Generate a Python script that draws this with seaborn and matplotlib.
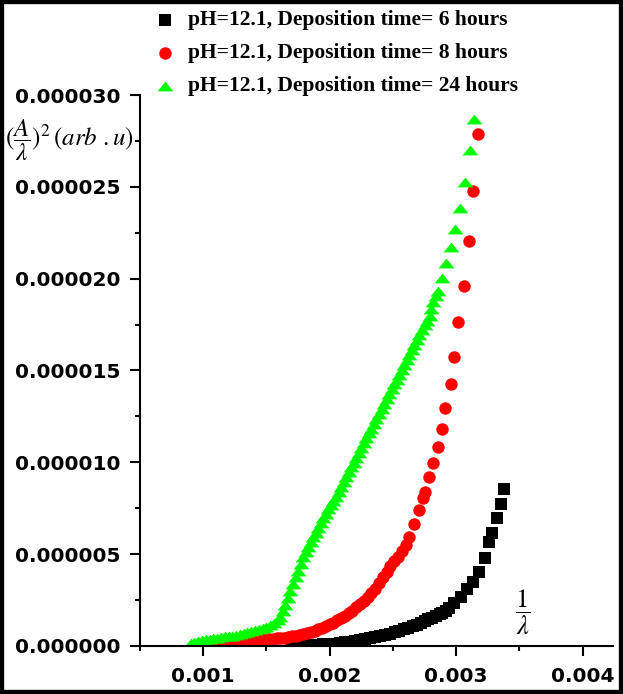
import numpy as np
import pandas as pd
import matplotlib
matplotlib.use('Agg')
import matplotlib.pyplot as plt
import seaborn as sns
from matplotlib.patches import Rectangle
from matplotlib.ticker import MultipleLocator, FormatStrFormatter

# values
# 1/lambda in units of 1e-3, (A/lambda)^2 in units of 1e-6
x_6h = [1.70, 1.75, 1.80, 1.85, 1.90, 1.95, 2.00, 2.04, 2.08, 2.12, 2.16, 2.20,
        2.24, 2.28, 2.32, 2.36, 2.40, 2.44, 2.48, 2.52, 2.55, 2.59, 2.62, 2.66,
        2.69, 2.72, 2.75, 2.78, 2.81, 2.84, 2.87, 2.89, 2.92, 2.945, 2.984,
        3.039, 3.087, 3.134, 3.181, 3.228, 3.260, 3.283, 3.323, 3.354, 3.378]
y_6h = [0.03, 0.04, 0.05, 0.06, 0.08, 0.09, 0.10, 0.12, 0.15, 0.19, 0.22, 0.27,
        0.32, 0.37, 0.42, 0.47, 0.52, 0.58, 0.66, 0.75, 0.82, 0.91, 0.99, 1.08,
        1.16, 1.25, 1.35, 1.45, 1.53, 1.65, 1.75, 1.80, 1.93, 2.07, 2.34,
        2.67, 3.10, 3.49, 4.03, 4.79, 5.66, 6.16, 6.97, 7.73, 8.55]

x_8h = [1.10, 1.13, 1.16, 1.19, 1.22, 1.25, 1.28, 1.31, 1.34, 1.37, 1.40, 1.43,
        1.46, 1.49, 1.52, 1.55, 1.58, 1.61, 1.64, 1.67, 1.70, 1.73, 1.76, 1.79,
        1.82, 1.85, 1.88, 1.91, 1.94, 1.97, 2.00, 2.03, 2.06, 2.09, 2.12, 2.15,
        2.18, 2.21, 2.24, 2.27, 2.30, 2.33, 2.36, 2.39, 2.42, 2.45, 2.48, 2.51,
        2.54, 2.57, 2.60, 2.63, 2.67, 2.71, 2.74, 2.756, 2.787, 2.819, 2.858,
        2.890, 2.913, 2.961, 2.984, 3.016, 3.063, 3.102, 3.134, 3.173]
y_8h = [0.16, 0.17, 0.18, 0.19, 0.21, 0.22, 0.24, 0.25, 0.27, 0.28, 0.30, 0.32,
        0.34, 0.36, 0.38, 0.40, 0.42, 0.44, 0.46, 0.49, 0.52, 0.56, 0.60, 0.65,
        0.70, 0.76, 0.83, 0.90, 0.98, 1.07, 1.17, 1.27, 1.39, 1.52, 1.65, 1.78,
        1.93, 2.10, 2.28, 2.45, 2.66, 2.88, 3.12, 3.43, 3.78, 4.05, 4.33, 4.60,
        4.87, 5.15, 5.50, 5.94, 6.65, 7.41, 8.06, 8.39, 9.21, 9.97, 10.84,
        11.82, 12.96, 14.27, 15.74, 17.65, 19.61, 22.06, 24.78, 27.89]

x_24h = [0.90, 0.93, 0.96, 0.99, 1.02, 1.05, 1.08, 1.11, 1.14, 1.17, 1.20, 1.23,
         1.26, 1.29, 1.32, 1.35, 1.38, 1.41, 1.44, 1.47, 1.50, 1.53, 1.56, 1.59,
         1.61, 1.63, 1.65, 1.67, 1.69, 1.71, 1.73, 1.75, 1.77, 1.79, 1.81, 1.83,
         1.85, 1.87, 1.89, 1.91, 1.93, 1.95, 1.97, 1.99, 2.01, 2.03, 2.05, 2.07,
         2.09, 2.11, 2.13, 2.15, 2.17, 2.19, 2.21, 2.23, 2.25, 2.27, 2.29, 2.31,
         2.33, 2.35, 2.37, 2.39, 2.41, 2.43, 2.45, 2.47, 2.49, 2.51, 2.53, 2.55,
         2.57, 2.59, 2.61, 2.63, 2.65, 2.67, 2.69, 2.71, 2.73, 2.75, 2.77, 2.79,
         2.805, 2.819, 2.838, 2.858, 2.890, 2.921, 2.961, 2.992, 3.031, 3.071,
         3.110, 3.142]
y_24h = [0.16, 0.22, 0.27, 0.32, 0.36, 0.40, 0.43, 0.46, 0.49, 0.52, 0.54, 0.57,
         0.61, 0.65, 0.70, 0.75, 0.80, 0.86, 0.92, 0.98, 1.06, 1.15, 1.26, 1.42,
         1.60, 1.91, 2.25, 2.61, 3.00, 3.38, 3.73, 4.09, 4.46, 4.83, 5.12, 5.38,
         5.65, 5.91, 6.17, 6.44, 6.70, 6.95, 7.20, 7.45, 7.68, 7.90, 8.12, 8.37,
         8.64, 8.92, 9.20, 9.47, 9.73, 9.99, 10.26, 10.52, 10.79, 11.05, 11.31, 11.57,
         11.83, 12.10, 12.37, 12.64, 12.91, 13.17, 13.44, 13.70, 13.97, 14.24, 14.50, 14.77,
         15.04, 15.31, 15.58, 15.85, 16.13, 16.41, 16.67, 16.93, 17.19, 17.45, 17.70, 17.96,
         18.35, 18.74, 19.05, 19.34, 20.04, 20.86, 21.73, 22.71, 23.86, 25.27,
         27.02, 28.71]

labels = ['pH=12.1, Deposition time= 6 hours',
          'pH=12.1, Deposition time= 8 hours',
          'pH=12.1, Deposition time= 24 hours']
colors = ['#000000', '#ff0000', '#00ff00']

# wide flat triangle like the original
tri = [(0, 0.62), (-1, -0.62), (1, -0.62)]
markers = ['s', 'o', tri]
sizes = [70, 80, 130]

sns.set_style('ticks')
plt.rcParams['font.family'] = ['DejaVu Sans']
plt.rcParams['mathtext.fontset'] = 'stix'

fig = plt.figure(figsize=(6.23, 6.94), dpi=100)
ax = fig.add_axes([0.2247, 0.0692, 0.7592, 0.7939])

series = [(x_6h, y_6h), (x_8h, y_8h), (x_24h, y_24h)]
for (xs, ys), lab, c, m, s in zip(series, labels, colors, markers, sizes):
    df = pd.DataFrame({'inv_lambda': np.array(xs) * 1e-3, 'abs2': np.array(ys) * 1e-6})
    sns.scatterplot(data=df, x='inv_lambda', y='abs2', color=c, marker=m, s=s,
                    linewidth=0, label=lab, ax=ax)

ax.set_xlim(0.0005, 0.00424)
ax.set_ylim(0, 3.0e-5)
ax.xaxis.set_major_locator(MultipleLocator(0.001))
ax.xaxis.set_minor_locator(MultipleLocator(0.0005))
ax.yaxis.set_major_locator(MultipleLocator(5e-6))
ax.yaxis.set_minor_locator(MultipleLocator(2.5e-6))
ax.xaxis.set_major_formatter(FormatStrFormatter('%.3f'))
ax.yaxis.set_major_formatter(FormatStrFormatter('%.6f'))
ax.set_xlabel('')
ax.set_ylabel('')

sns.despine(ax=ax)
for sp in ['left', 'bottom']:
    ax.spines[sp].set_linewidth(1.5)
    ax.spines[sp].set_color('black')
ax.tick_params(which='major', direction='out', length=7, width=1.5, labelsize=14.5,
               color='black', labelcolor='black')
ax.tick_params(which='minor', direction='out', length=3.6, width=1.5, color='black')
ax.tick_params(axis='x', which='major', pad=8)
ax.tick_params(axis='y', which='major', pad=7)
for t in ax.get_xticklabels() + ax.get_yticklabels():
    t.set_fontweight('bold')

leg = ax.legend(loc='upper left', bbox_to_anchor=(0.248, 0.985), bbox_transform=fig.transFigure,
                frameon=False, borderpad=0, borderaxespad=0, handlelength=1.0,
                handletextpad=0.55, labelspacing=0.6,
                prop={'family': 'Liberation Serif', 'weight': 'bold', 'size': 15.5})
for t in leg.get_texts():
    t.set_color('black')

# axis titles drawn inside the picture like in the original
fig.text(5 / 623, 1 - 140 / 694, r'$(\dfrac{A}{\lambda})^2\,(arb\ .u)$',
         ha='left', va='center', fontsize=18, color='black')
fig.text(523 / 623, 1 - 612 / 694, r'$\dfrac{1}{\lambda}$',
         ha='center', va='center', fontsize=19, color='black')

# black frame round the whole picture
fig.patches.append(Rectangle((0, 0), 1, 1, transform=fig.transFigure, fill=False,
                             edgecolor='black', linewidth=6))

plt.savefig('out.png', dpi=100)
plt.close()
